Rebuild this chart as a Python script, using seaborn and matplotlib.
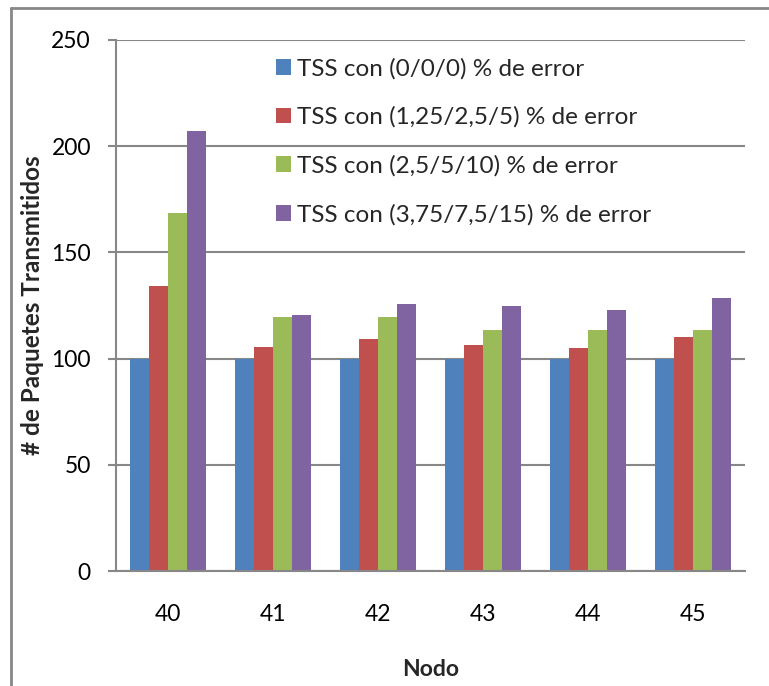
import matplotlib
matplotlib.use("Agg")
import matplotlib.pyplot as plt
import seaborn as sns
import pandas as pd
from matplotlib.lines import Line2D

# Data
nodos = ["40", "41", "42", "43", "44", "45"]
series = [
    "TSS con (0/0/0) % de error",
    "TSS con (1,25/2,5/5) % de error",
    "TSS con (2,5/5/10) % de error",
    "TSS con (3,75/7,5/15) % de error",
]
err_0 = [100, 100, 100, 100, 100, 100]
err_1 = [134, 105.5, 109, 106.5, 105, 110]
err_2 = [168.5, 119.5, 119.5, 113.5, 113.5, 113.5]
err_3 = [207, 120.5, 125.5, 125, 123, 128.5]
colors = ["#4F81BD", "#C0504D", "#9BBB59", "#8064A2"]

rows = []
for name, vals in zip(series, [err_0, err_1, err_2, err_3]):
    for n, v in zip(nodos, vals):
        rows.append({"Nodo": n, "Serie": name, "Paquetes": v})
df = pd.DataFrame(rows)

sns.set_theme(style="white")
plt.rcParams["font.family"] = ["Lato", "DejaVu Sans"]

W, H = 769, 686
fig = plt.figure(figsize=(W / 100, H / 100), dpi=100)
ax = fig.add_axes([116 / W, 1 - 571 / H, (745 - 116) / W, (571 - 40) / H])

sns.barplot(data=df, x="Nodo", y="Paquetes", hue="Serie", order=nodos,
            hue_order=series, palette=colors, width=0.725, linewidth=0,
            saturation=1, ax=ax)

ax.set_ylim(0, 250)
ax.set_yticks([0, 50, 100, 150, 200, 250])
ax.set_xlim(-0.5, len(nodos) - 0.5)
ax.set_axisbelow(True)
ax.yaxis.grid(True, color="#878787", linewidth=1.5)
ax.xaxis.grid(False)

for side in ["top", "right"]:
    ax.spines[side].set_visible(False)
for side in ["left", "bottom"]:
    ax.spines[side].set_color("#878787")
    ax.spines[side].set_linewidth(1.5)

ax.tick_params(axis="y", which="major", left=True, length=6, width=1.5,
               color="#878787", pad=12, labelsize=16.5, labelcolor="black")
ax.tick_params(axis="x", which="major", bottom=False, length=0, pad=24,
               labelsize=16.5, labelcolor="black")

ax.set_xlabel("Nodo", fontsize=16.5, fontweight="bold", labelpad=24)
ax.set_ylabel("# de Paquetes Transmitidos", fontsize=17.5, fontweight="bold",
              labelpad=5)

# Legend inside the plot, no frame
handles, labels = ax.get_legend_handles_labels()
ax.legend(handles, labels, loc="upper left",
          bbox_to_anchor=(266 / W, 1 - 48 / H), bbox_transform=fig.transFigure,
          frameon=False, fontsize=17.5, handlelength=0.62, handleheight=0.62,
          handletextpad=0.25, labelspacing=1.12, borderaxespad=0)

# Chart area border (left and top edges)
fig.add_artist(Line2D([11 / W, 11 / W], [0, 1 - 8 / H], transform=fig.transFigure,
                      color="#878787", linewidth=2))
fig.add_artist(Line2D([11 / W, 1], [1 - 8 / H, 1 - 8 / H], transform=fig.transFigure,
                      color="#878787", linewidth=2))

fig.savefig("out.png", dpi=100)
